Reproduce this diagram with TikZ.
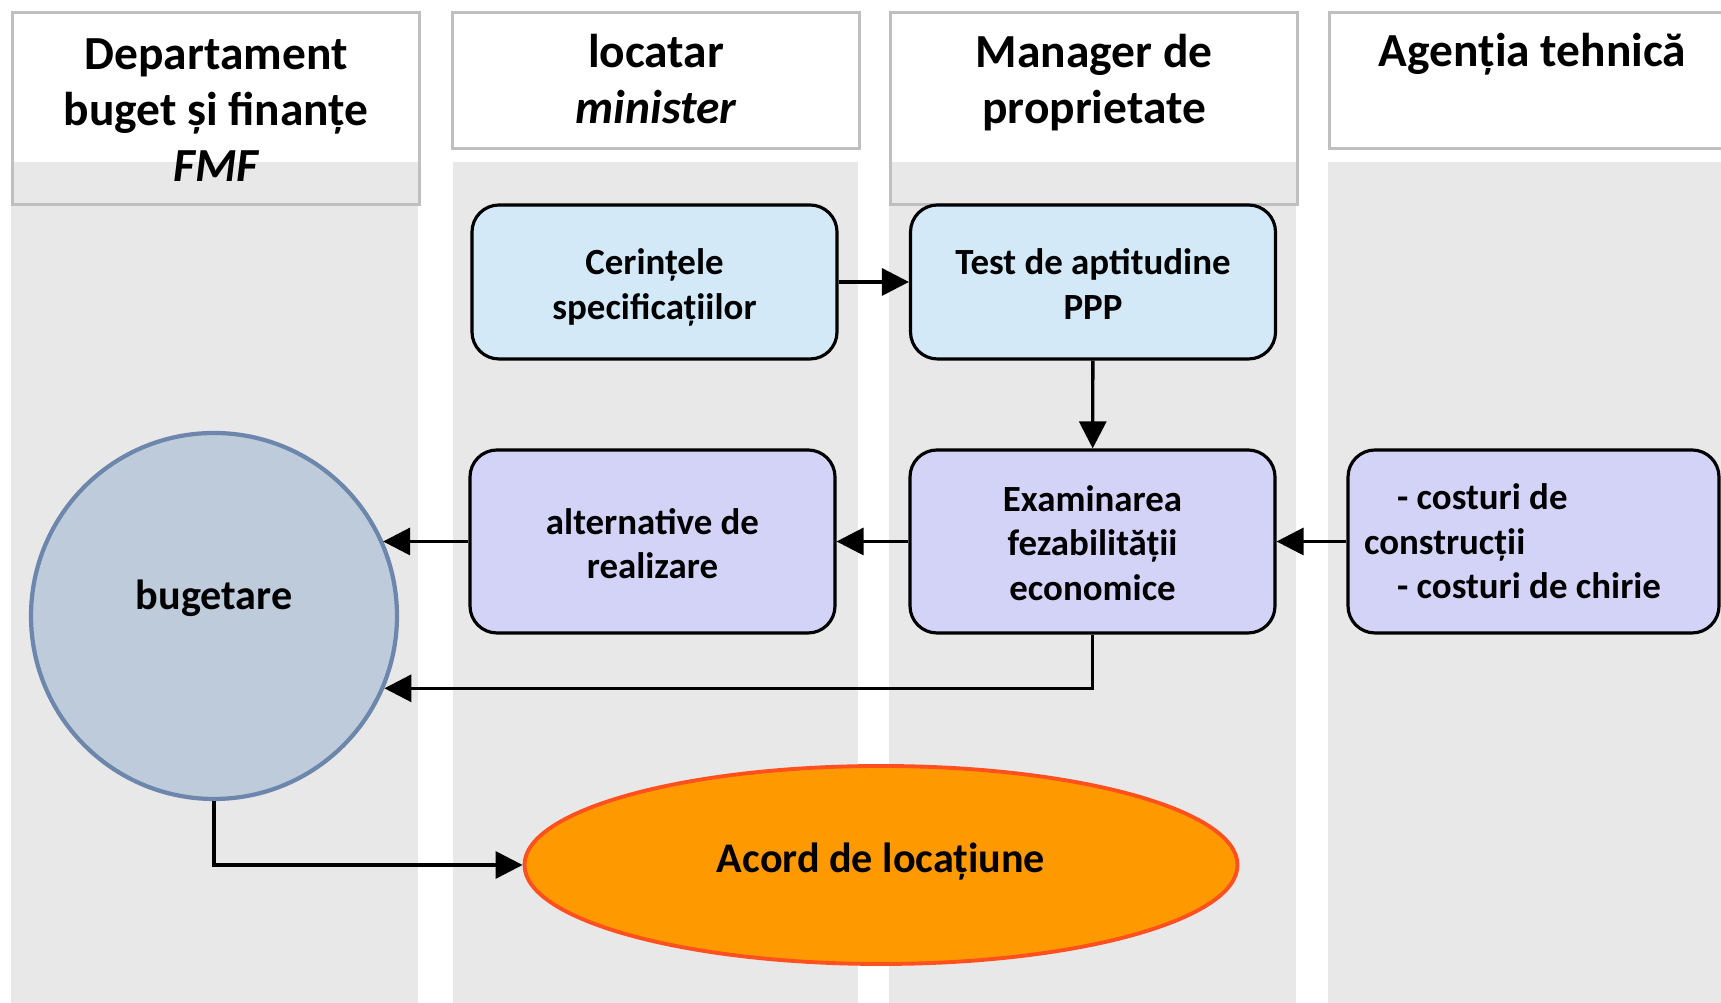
\documentclass[tikz,border=0pt]{standalone}
\usepackage{fontspec}
\setmainfont{Carlito}
\usepackage{tikz}
\usetikzlibrary{positioning,arrows.meta,shapes.geometric}
\definecolor{lanegray}{RGB}{232,232,232}
\definecolor{headline}{RGB}{191,191,191}
\definecolor{reqblue}{RGB}{211,233,248}
\definecolor{evallav}{RGB}{211,211,247}
\definecolor{budfill}{RGB}{190,203,219}
\definecolor{budline}{RGB}{108,135,171}
\definecolor{leasefill}{RGB}{255,153,0}
\definecolor{leaseline}{RGB}{255,80,30}
\tikzset{
  lane/.style={fill=lanegray},
  headbox/.style={draw=headline, line width=0.9pt, inner sep=0pt, anchor=north west},
  headtxt/.style={font=\fontsize{13.5}{16}\selectfont\bfseries, align=center,
                  inner sep=0pt, anchor=base},
  task/.style={draw=black, line width=0.9pt, rounded corners=2.7mm, minimum width=3.65cm,
               align=center, font=\fontsize{10.5}{12.7}\selectfont\bfseries, text depth=0pt},
  twoline/.style={text height=0.75cm},
  threeline/.style={text height=1.18cm},
  reqbox/.style={task, twoline, fill=reqblue, minimum height=1.54cm},
  evalbox/.style={task, fill=evallav, minimum height=1.83cm},
  costbox/.style={evalbox, align=flush left, text width=3.39cm, inner xsep=0.16cm,
                  text height=0.2cm, text depth=0.84cm},
  budnode/.style={circle, draw=budline, fill=budfill, line width=1.2pt, minimum size=3.66cm},
  leasenode/.style={ellipse, draw=leaseline, fill=leasefill, line width=1.1pt, inner sep=0pt,
                    minimum width=7.13cm, minimum height=1.98cm, text height=0.3cm, text depth=0.15cm,
                    font=\fontsize{12}{14}\selectfont\bfseries},
  flow/.style={line width=0.95pt, -{Triangle[length=2.7mm,width=2.7mm]}},
}

\begin{document}
\begin{tikzpicture}[line cap=butt]
  \useasboundingbox (0,0) rectangle (17.21,10.03);
  % ====== culoare (swimlanes) ======
  \foreach \xa/\xb in {0.11/4.18, 4.53/8.58, 8.89/12.96, 13.28/17.34}
    \fill[lane] (\xa,0) rectangle (\xb,8.41);
  % ====== antete ======
  \node[headbox, minimum width=4.07cm, minimum height=1.92cm] (h1) at (0.11,9.92) {};
  \node[headbox, minimum width=4.07cm, minimum height=1.36cm] (h2) at (4.51,9.92) {};
  \node[headbox, minimum width=4.07cm, minimum height=1.92cm] (h3) at (8.89,9.92) {};
  \node[headbox, minimum width=4.06cm, minimum height=1.36cm] (h4) at (13.28,9.92) {};
  % base = ultimul rand
  \node[headtxt] (t1) at ([yshift=-1.71cm]h1.north) {Departament\\buget și finanțe\\\itshape FMF};
  \node[headtxt] (t2) at ([yshift=-1.125cm]h2.north) {locatar\\\itshape minister};
  \node[headtxt] (t3) at ([yshift=-1.125cm]h3.north) {Manager de\\proprietate};
  \node[headtxt] (t4) at ([yshift=-0.56cm]h4.north) {Agenția tehnică};
  % ====== pasi ======
  \node[reqbox] (cer) at (6.545,7.21) {Cerințele\\specificațiilor};
  \node[reqbox] (test) at (10.93,7.21) {Test de aptitudine\\PPP};
  \node[evalbox, twoline] (alt) at (6.525,4.615) {alternative de\\realizare};
  \node[evalbox, threeline] (exam) at (10.925,4.615) {Examinarea\\fezabilității\\economice};
  \node[costbox] (cost) at (15.335,4.615)
    {\hspace*{0.33cm}- costuri de\\construcții\\\hspace*{0.33cm}- costuri de chirie};
  \node[budnode, label={[shift={(0,0.18)}, font=\fontsize{12}{14}\selectfont\bfseries]center:bugetare}]
    (bug) at (2.14,3.87) {};
  \node[leasenode] (acord) at (8.81,1.38) {Acord de locațiune};
  % ====== sageti ======
  \draw[flow] (cer) -- (test);
  \draw[flow] (test) -- (exam);
  \draw[flow] (exam) -- (alt);
  \draw[flow] (cost) -- (exam);
  \draw[flow] (alt.west) -- (alt.west -| bug.24.5);
  \draw[flow] (exam.south) |- (bug.-23.3);
  \draw[flow] (bug.south) |- (acord.west);
\end{tikzpicture}
\end{document}
